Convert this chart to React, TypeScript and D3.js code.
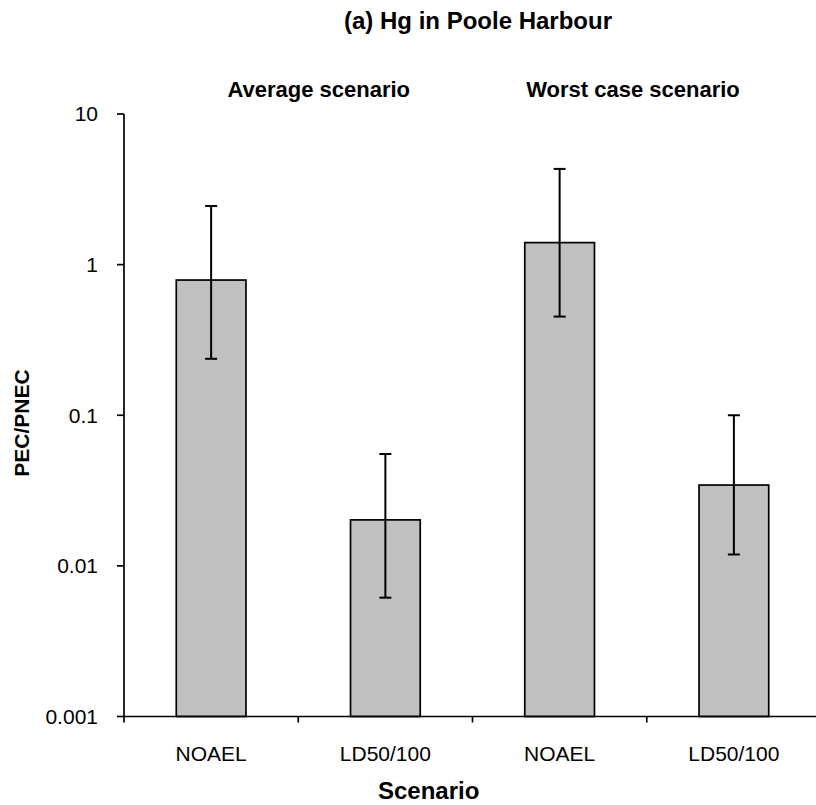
import React from "react";
import * as d3 from "d3";

// PEC/PNEC ratios for Hg in Poole Harbour
const categories = ["NOAEL", "LD50/100", "NOAEL", "LD50/100"];
const scenarios = ["Average scenario", "Worst case scenario"];
const pecPnec = [0.79, 0.0202, 1.4, 0.0344];
const errLow = [0.237, 0.00615, 0.452, 0.0119];
const errHigh = [2.45, 0.0553, 4.32, 0.1];
const yTicks = [0.001, 0.01, 0.1, 1, 10];

const W = 816;
const H = 805;
const margin = { top: 114, left: 124, bottom: 716.5, right: 821 };
const font = "'Liberation Sans', Arial, sans-serif";

export default function App() {
  const keys = categories.map((c, i) => `${i}-${c}`);

  const x = d3
    .scaleBand<string>()
    .domain(keys)
    .range([margin.left, margin.right])
    .paddingInner(0.6)
    .paddingOuter(0.3);

  const y = d3
    .scaleLog()
    .domain([0.001, 10])
    .range([margin.bottom, margin.top]);

  const bounds = d3.range(categories.length + 1).map((i) => margin.left + i * x.step());
  const capHalf = 6;

  return (
    <svg
      width={W}
      height={H}
      style={{ position: "absolute", left: 0, top: 0, background: "#fff" }}
      fontFamily={font}
    >
      {/* title */}
      <text x={478} y={29} textAnchor="middle" fontSize={24} fontWeight="bold">
        (a) Hg in Poole Harbour
      </text>
      <text x={318.7} y={97} textAnchor="middle" fontSize={22} fontWeight="bold">
        {scenarios[0]}
      </text>
      <text x={633} y={97} textAnchor="middle" fontSize={22} fontWeight="bold">
        {scenarios[1]}
      </text>

      {/* bars */}
      {pecPnec.map((v, i) => (
        <rect
          key={keys[i]}
          x={x(keys[i])}
          y={y(v)}
          width={x.bandwidth()}
          height={y(0.001) - y(v)}
          fill="#c0c0c0"
          stroke="#000"
          strokeWidth={1.7}
        />
      ))}

      {/* error bars */}
      {pecPnec.map((v, i) => {
        const cx = (x(keys[i]) ?? 0) + x.bandwidth() / 2;
        return (
          <g key={"e" + i} stroke="#000" strokeWidth={2}>
            <line x1={cx} x2={cx} y1={y(errHigh[i])} y2={y(errLow[i])} />
            <line x1={cx - capHalf} x2={cx + capHalf} y1={y(errHigh[i])} y2={y(errHigh[i])} />
            <line x1={cx - capHalf} x2={cx + capHalf} y1={y(errLow[i])} y2={y(errLow[i])} />
          </g>
        );
      })}

      {/* y axis */}
      <line x1={margin.left} x2={margin.left} y1={margin.top} y2={margin.bottom} stroke="#000" strokeWidth={1.7} />
      {yTicks.map((t) => (
        <g key={t}>
          <line x1={margin.left - 7} x2={margin.left} y1={y(t)} y2={y(t)} stroke="#000" strokeWidth={1.7} />
          <text x={98} y={y(t)} dy="0.35em" textAnchor="end" fontSize={21}>
            {String(t)}
          </text>
        </g>
      ))}

      {/* x axis */}
      <line x1={margin.left} x2={margin.right} y1={margin.bottom} y2={margin.bottom} stroke="#000" strokeWidth={1.7} />
      {bounds.map((b, i) => (
        <line key={"t" + i} x1={b} x2={b} y1={margin.bottom} y2={margin.bottom + 6} stroke="#000" strokeWidth={1.7} />
      ))}
      {categories.map((c, i) => (
        <text
          key={"l" + i}
          x={(x(keys[i]) ?? 0) + x.bandwidth() / 2}
          y={761}
          textAnchor="middle"
          fontSize={21}
        >
          {c}
        </text>
      ))}

      {/* axis titles */}
      <text x={428.7} y={799} textAnchor="middle" fontSize={24} fontWeight="bold">
        Scenario
      </text>
      <text
        transform={`translate(29, 423) rotate(-90)`}
        textAnchor="middle"
        fontSize={21}
        fontWeight="bold"
      >
        PEC/PNEC
      </text>
    </svg>
  );
}
